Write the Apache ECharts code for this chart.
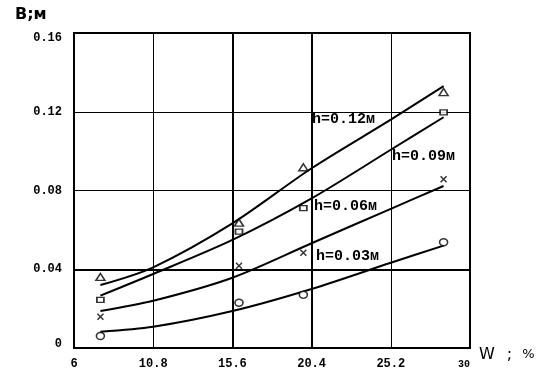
<!DOCTYPE html>
<html>
<head>
<meta charset="utf-8">
<script src="https://cdn.jsdelivr.net/npm/echarts@6/dist/echarts.min.js"></script>
<style>
  html, body { margin: 0; padding: 0; background: #fff; }
  #chart { width: 548px; height: 386px; }
</style>
</head>
<body>
<div id="chart"></div>
<script>
// 测量点 (W, %)
const pointW = [7.6, 16.0, 19.9, 28.4];
const pts012 = [0.0361, 0.0637, 0.0918, 0.130];
const pts009 = [0.0244, 0.0591, 0.071, 0.1197];
const pts006 = [0.0159, 0.0418, 0.0484, 0.0857];
const pts003 = [0.0061, 0.023, 0.027, 0.0537];

// 拟合曲线
const curveW = [7.6, 10.8, 15.6, 20.4, 25.2, 28.4];
const curve012 = [0.032, 0.041, 0.0633, 0.0913, 0.116, 0.133];
const curve009 = [0.0266, 0.0376, 0.0549, 0.076, 0.1007, 0.1172];
const curve006 = [0.0188, 0.024, 0.0357, 0.0532, 0.0707, 0.0823];
const curve003 = [0.0083, 0.0108, 0.0188, 0.030, 0.0433, 0.052];

const curveNames = ['h=0.12м', 'h=0.09м', 'h=0.06м', 'h=0.03м'];

const xTickLabels = ['6', '10.8', '15.6', '20.4', '25.2', '30'];
const yTickLabels = ['0', '0.04', '0.08', '0.12', '0.16'];

// 加粗的网格线
const heavyX = [15.6, 20.4];
const heavyY = [0.04];

const zip = (xs, ys) => xs.map((x, i) => [x, ys[i]]);

const myChart = echarts.init(document.getElementById('chart'));

const markFont = 'Liberation Mono';

const curveSeries = [curve012, curve009, curve006, curve003].map((c, i) => ({
  type: 'line',
  name: curveNames[i],
  data: zip(curveW, c),
  smooth: 0.3,
  showSymbol: false,
  lineStyle: { color: '#000', width: 2 },
  z: 3,
}));

curveSeries[0].markLine = {
  silent: true,
  symbol: 'none',
  label: { show: false },
  lineStyle: { color: '#000', width: 2, type: 'solid' },
  data: heavyX.map(v => ({ xAxis: v })).concat(heavyY.map(v => ({ yAxis: v }))),
};

const pointStyle = { color: '#fff', borderColor: '#000', borderWidth: 1.5 };

const pointSeries = [
  { data: pts012, symbol: 'triangle', symbolSize: [9, 7] },
  { data: pts009, symbol: 'rect', symbolSize: [7, 5] },
  { data: pts006, symbol: 'path://M0,0L10,10M10,0L0,10', symbolSize: [6, 6] },
  { data: pts003, symbol: 'circle', symbolSize: [8, 7] },
].map(s => ({
  type: 'scatter',
  data: zip(pointW, s.data),
  symbol: s.symbol,
  symbolSize: s.symbolSize,
  itemStyle: s.symbol.startsWith('path')
    ? { color: 'none', borderColor: '#000', borderWidth: 1.5 }
    : pointStyle,
  z: 4,
}));

const option = {
  animation: false,
  backgroundColor: '#fff',
  grid: {
    left: 74,
    right: 78,
    top: 33,
    bottom: 38,
    show: true,
    borderColor: '#000',
    borderWidth: 2,
  },
  xAxis: {
    type: 'value',
    min: 6,
    max: 30,
    interval: 4.8,
    axisLine: { show: true, lineStyle: { color: '#000', width: 2 } },
    axisTick: { show: false },
    splitLine: { show: true, lineStyle: { color: '#000', width: 1 } },
    axisLabel: {
      showMinLabel: true,
      showMaxLabel: true,
      color: '#000',
      fontFamily: markFont,
      fontWeight: 'bold',
      fontSize: 12,
      margin: 10,
      formatter: (v, i) => (i === xTickLabels.length - 1 ? '{s|' + xTickLabels[i] + '}' : xTickLabels[i]),
      rich: { s: { fontSize: 10, fontWeight: 'bold', padding: [1, 12, 0, 0] } },
    },
  },
  yAxis: {
    type: 'value',
    min: 0,
    max: 0.16,
    interval: 0.04,
    axisLine: { show: true, lineStyle: { color: '#000', width: 2 } },
    axisTick: { show: false },
    splitLine: { show: true, lineStyle: { color: '#000', width: 1 } },
    axisLabel: {
      showMinLabel: true,
      showMaxLabel: true,
      color: '#000',
      fontFamily: markFont,
      fontWeight: 'bold',
      fontSize: 12,
      margin: 12,
      formatter: (v, i) => {
        if (i === 0) return '{b|' + yTickLabels[i] + '}';
        if (i === yTickLabels.length - 1) return '{t|' + yTickLabels[i] + '}';
        return yTickLabels[i];
      },
      rich: {
        t: { padding: [10, 0, 0, 0] },
        b: { padding: [0, 0, 8, 0] },
      },
    },
  },
  graphic: [
    { type: 'text', left: 15, top: 7, style: { text: 'В;м', font: 'bold 16px "DejaVu Sans"', fill: '#000' } },
    {
      type: 'text', left: 479, top: 347,
      style: {
        text: '{w|W}{s|;}{p|%}',
        fill: '#000',
        rich: {
          w: { font: '16px "DejaVu Sans"', padding: [0, 12, 0, 0] },
          s: { font: '16px "DejaVu Sans"', padding: [0, 10, 0, 0] },
          p: { font: '13px "DejaVu Sans"' },
        },
      },
    },
    { type: 'text', left: 312, top: 112, style: { text: curveNames[0], font: 'bold 15px "Liberation Mono"', fill: '#000' } },
    { type: 'text', left: 392, top: 149, style: { text: curveNames[1], font: 'bold 15px "Liberation Mono"', fill: '#000' } },
    { type: 'text', left: 314, top: 199, style: { text: curveNames[2], font: 'bold 15px "Liberation Mono"', fill: '#000' } },
    { type: 'text', left: 316, top: 249, style: { text: curveNames[3], font: 'bold 15px "Liberation Mono"', fill: '#000' } },
  ],
  series: curveSeries.concat(pointSeries),
};

myChart.setOption(option);
</script>
</body>
</html>
